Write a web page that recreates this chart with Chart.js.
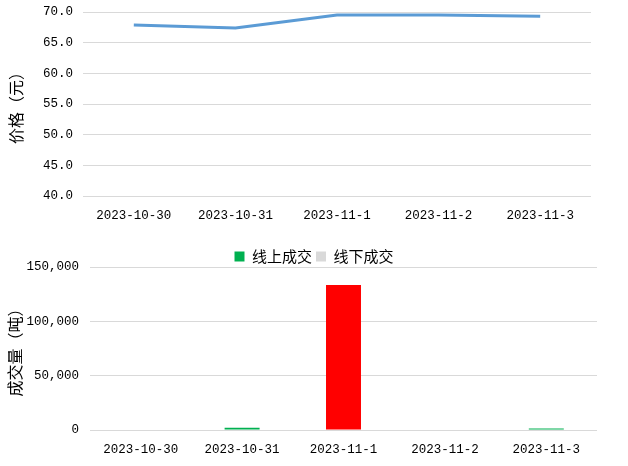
<!DOCTYPE html>
<html>
<head>
<meta charset="utf-8">
<script src="https://cdn.jsdelivr.net/npm/chart.js@4.4.0/dist/chart.umd.min.js"></script>
<style>
  body { margin: 0; background: #fff; }
  #wrap { position: relative; width: 628px; height: 466px; }
  #price-box { position: absolute; left: 0; top: 0; width: 628px; height: 232px; }
  #volume-box { position: absolute; left: 0; top: 232px; width: 628px; height: 234px; }
</style>
</head>
<body>
<div id="wrap">
  <div id="price-box"><canvas id="price-line" width="628" height="232"></canvas></div>
  <div id="volume-box"><canvas id="volume-bar" width="628" height="234"></canvas></div>
</div>
<script>
// dates
let dates = ['2023-10-30', '2023-10-31', '2023-11-1', '2023-11-2', '2023-11-3'];
// price (yuan)
let price = [67.9, 67.4, 69.5, 69.5, 69.3];
// volume (tons)
let onlineVol = [0, 2000, 0, 0, 1400];
let offlineVol = [0, 0, 133500, 0, 0];
let offlineColors = ['#d9d9d9', '#d9d9d9', '#ff0000', '#d9d9d9', '#d9d9d9'];

let tickFont = { family: "'Liberation Mono', 'Noto Sans CJK SC'", size: 12.5 };
let cjkFont = { family: "'Noto Sans CJK SC'", size: 16 };
let gridColor = '#d9d9d9';

//Price line
let ctx = document.getElementById('price-line').getContext('2d');
new Chart(ctx, {
    type: 'line',
    data: {
        labels: dates,
        datasets: [{
            label: '价格',
            data: price,
            borderColor: '#5b9bd5',
            borderWidth: 3,
            pointRadius: 0,
            tension: 0
        }]
    },
    options: {
        responsive: false,
        animation: false,
        layout: { padding: { left: 0, right: 37, top: 12, bottom: 0 } },
        plugins: { legend: { display: false }, tooltip: { enabled: false } },
        scales: {
            x: {
                offset: true,
                grid: { display: false, drawTicks: false },
                border: { display: false },
                ticks: { color: '#000', font: tickFont, padding: 12, maxRotation: 0 },
                afterFit: (scale) => { scale.height = 36; }
            },
            y: {
                min: 40,
                max: 70,
                ticks: {
                    stepSize: 5,
                    color: '#000',
                    font: tickFont,
                    padding: 0,
                    callback: (v) => v.toFixed(1)
                },
                // invisible tick marks keep the gap between labels and plot
                grid: { color: gridColor, drawTicks: true, tickLength: 10, tickColor: 'rgba(0,0,0,0)' },
                border: { display: false },
                title: { display: true, text: '价格（元）', color: '#000', font: cjkFont, padding: { top: 6, bottom: 0 } },
                afterFit: (scale) => { scale.width = 83; }
            }
        }
    }
});

//Volume bars
let ctx2 = document.getElementById('volume-bar').getContext('2d');

// legend sits closer to the plot than the default spacing
let legendGap = {
    id: 'legendGap',
    beforeInit: (chart) => {
        let fit = chart.legend.fit;
        chart.legend.fit = function () {
            fit.bind(chart.legend)();
            this.height -= 7;
        };
    }
};

new Chart(ctx2, {
    type: 'bar',
    data: {
        labels: dates,
        datasets: [{
            label: '线上成交',
            data: onlineVol,
            backgroundColor: '#00b050'
        }, {
            label: '线下成交',
            data: offlineVol,
            backgroundColor: offlineColors
        }]
    },
    plugins: [legendGap],
    options: {
        responsive: false,
        animation: false,
        layout: { padding: { left: 0, right: 0, top: 13, bottom: 0 } },
        plugins: {
            tooltip: { enabled: false },
            legend: {
                position: 'top',
                labels: {
                    boxWidth: 10,
                    boxHeight: 10,
                    padding: 4,
                    color: '#000',
                    font: { family: "'Noto Sans CJK SC'", size: 15 },
                    generateLabels: (chart) => chart.data.datasets.map((ds, i) => ({
                        text: ds.label,
                        fillStyle: i === 0 ? '#00b050' : '#d9d9d9',
                        strokeStyle: 'rgba(0,0,0,0)',
                        lineWidth: 0,
                        datasetIndex: i
                    }))
                }
            }
        },
        datasets: { bar: { categoryPercentage: 1, barPercentage: 0.345 } },
        scales: {
            x: {
                stacked: true,
                grid: { display: false, drawTicks: false },
                border: { display: false },
                ticks: { color: '#000', font: tickFont, padding: 12, maxRotation: 0 },
                afterFit: (scale) => { scale.height = 36; }
            },
            y: {
                stacked: true,
                min: 0,
                max: 150000,
                ticks: {
                    stepSize: 50000,
                    color: '#000',
                    font: tickFont,
                    padding: 0,
                    callback: (v) => v.toLocaleString('en-US')
                },
                grid: { color: gridColor, drawTicks: true, tickLength: 11, tickColor: 'rgba(0,0,0,0)' },
                border: { display: false },
                title: { display: true, text: '成交量（吨）', color: '#000', font: cjkFont, padding: { top: 5, bottom: 0 } },
                afterFit: (scale) => { scale.width = 90; }
            },
            // empty right axis, only keeps the right margin
            yRight: {
                position: 'right',
                display: true,
                grid: { display: false, drawTicks: false },
                border: { display: false },
                ticks: { display: false },
                afterFit: (scale) => { scale.width = 31; }
            }
        }
    }
});
</script>
</body>
</html>
